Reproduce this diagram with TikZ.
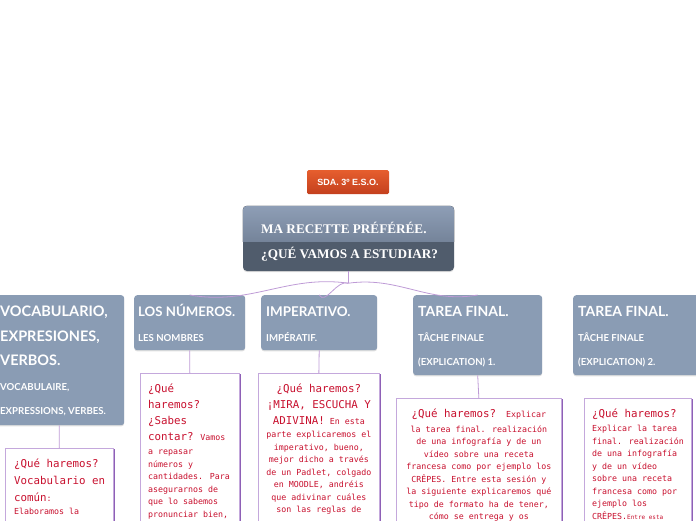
\documentclass[tikz,border=0pt]{standalone}
\usepackage{fontspec}
\setmainfont{Lato}
\newfontfamily\titlefont{Liberation Serif}
\newfontfamily\pixfont{DejaVu Sans Mono}
\newfontfamily\tagfont{Liberation Sans}
\usepackage{xcolor}
\usetikzlibrary{positioning, shadows, calc}

\definecolor{headfill}{RGB}{138,156,180}
\definecolor{maintop}{RGB}{142,158,182}
\definecolor{maintopb}{RGB}{96,110,130}
\definecolor{mainbot}{RGB}{80,92,108}
\definecolor{sdatop}{RGB}{230,94,46}
\definecolor{sdabot}{RGB}{196,64,30}
\definecolor{boxline}{RGB}{196,168,220}
\definecolor{boxshadow}{RGB}{142,96,182}
\definecolor{linkcol}{RGB}{190,155,214}
\definecolor{txtred}{RGB}{200,16,46}

% big lines inside the task boxes / head boxes
\newcommand{\bigq}[1]{{\fontsize{10.8}{12.5}\selectfont #1}}
\newcommand{\hbig}[2][13.4]{{\fontsize{#1}{24.5}\selectfont #2}}

\begin{document}
\begin{tikzpicture}[x=1pt, y=-1pt,
  sdatag/.style={rectangle, rounded corners=1.5pt, top color=sdatop, bottom color=sdabot,
    minimum width=82, minimum height=24, inner sep=0pt, text=white,
    font=\tagfont\bfseries\fontsize{9}{10}\selectfont},
  maintopic/.style={rectangle, rounded corners=4pt, fill=mainbot, minimum width=211,
    minimum height=65, inner sep=0pt,
    drop shadow={shadow xshift=0pt, shadow yshift=-1.2pt, opacity=.25}},
  maintxt/.style={text=white, inner sep=0pt, font=\titlefont\bfseries\fontsize{13.2}{15}\selectfont},
  head/.style={rectangle, rounded corners=3pt, fill=headfill, anchor=north west, inner sep=0pt,
    drop shadow={shadow xshift=0pt, shadow yshift=-1.2pt, opacity=.25}},
  headtxt/.style={anchor=north west, text=white, align=left, inner sep=0pt,
    font=\bfseries\fontsize{9.6}{24.5}\selectfont},
  box/.style={rectangle, draw=boxline, line width=0.7pt, fill=white, anchor=north west, inner sep=0pt,
    drop shadow={shadow xshift=1.6pt, shadow yshift=-0.5pt, fill=boxshadow, opacity=1}},
  boxtxt/.style={text=txtred, inner sep=0pt, font=\pixfont\fontsize{8.3}{12.5}\selectfont},
  link/.style={draw=linkcol, line width=0.8pt}]

  \useasboundingbox (0,0) rectangle (696,520);
  \clip (0,0) rectangle (696,520);

  % title tag
  \node[sdatag] (sda) at (348,182) {SDA. 3º E.S.O.};

  % main topic, light upper half over dark lower half
  \node[maintopic] (main) at (348.5,238.5) {};
  \begin{scope}
    \clip (main.north west) rectangle ($(main.north east)+(0,36)$);
    \fill[rounded corners=4pt, top color=maintop, bottom color=maintopb] (main.north west) rectangle (main.south east);
  \end{scope}
  \node[maintxt, anchor=base west] (mainA) at (261,233.5) {MA RECETTE PRÉFÉRÉE.};
  \node[maintxt, anchor=base west] (mainB) at (261,258.5) {¿QUÉ VAMOS A ESTUDIAR?};

  % subtopics
  \node[head, minimum width=130, minimum height=130] (vocab) at (-6,295) {};
  \node[head, minimum width=111, minimum height=55] (num) at (134,295) {};
  \node[head, minimum width=116, minimum height=55] (imp) at (261,295) {};
  \node[head, minimum width=129, minimum height=80] (tfa) at (413,295) {};
  \node[head, minimum width=140, minimum height=80] (tfb) at (573,295) {};

  \node[headtxt] (vocabtxt) at ([shift={(6,7.2)}]vocab.north west)
    {\rule{0pt}{14.5pt}\hbig[14.5]{VOCABULARIO,}\\ \hbig[14.5]{EXPRESIONES,}\\ \hbig[14.5]{VERBOS.}\\ VOCABULAIRE,\\ EXPRESSIONS, VERBES.};
  \node[headtxt] (numtxt) at ([shift={(4,7.7)}]num.north west)
    {\rule{0pt}{14pt}\hbig[13.2]{LOS NÚMEROS.}\\ LES NOMBRES};
  \node[headtxt] (imptxt) at ([shift={(5,7.7)}]imp.north west)
    {\rule{0pt}{14pt}\hbig[13.4]{IMPERATIVO.}\\ IMPÉRATIF.};
  \node[headtxt] (tfatxt) at ([shift={(5,7.5)}]tfa.north west)
    {\rule{0pt}{14.2pt}\hbig[14]{TAREA FINAL.}\\ TÂCHE FINALE\\ (EXPLICATION) 1.};
  \node[headtxt] (tfbtxt) at ([shift={(5,7.5)}]tfb.north west)
    {\rule{0pt}{14.2pt}\hbig[14]{TAREA FINAL.}\\ TÂCHE FINALE\\ (EXPLICATION) 2.};

  % connectors main -> subtopics
  \coordinate (fork) at ($(main.south)+(0,12)$);
  \draw[link] (main.south) -- (fork);
  \draw[link] (fork) to[out=172, in=350] (num.north);
  \draw[link] (fork) to[out=160, in=300] (imp.north);
  \draw[link] (fork) to[out=8, in=190] (tfa.north);

  % task boxes
  \node[box, minimum width=108, minimum height=120] (voctask) at (5,448) {};
  \node[box, minimum width=99, minimum height=200] (numtask) at (140,373) {};
  \node[box, minimum width=121, minimum height=200] (imptask) at (258,373) {};
  \node[box, minimum width=165, minimum height=160] (tfatask) at (396,398) {};
  \node[box, minimum width=107, minimum height=160] (tfbtask) at (584,398) {};

  \draw[link] (vocab.south) -- (voctask.north);
  \draw[link] (num.south) -- (numtask.north);
  \draw[link] (imp.south) -- (imptask.north);
  \draw[link] (tfa.south) -- (tfatask.north);

  \node[boxtxt, anchor=north west, align=left] (voctasktxt) at ([shift={(9,7.5)}]voctask.north west)
    {\rule{0pt}{12pt}\bigq{¿Qué haremos?}\\[4.5pt] \bigq{Vocabulario en}\\[4.5pt] \bigq{común}:\\ Elaboramos la};
  \node[boxtxt, anchor=north west, align=left] (numtasktxt) at ([shift={(8,7.5)}]numtask.north west)
    {\rule{0pt}{12pt}\bigq{¿Qué}\\[3.5pt] \bigq{haremos?}\\[3.5pt] \bigq{¿Sabes}\\[3.5pt] \bigq{contar?} Vamos\\[1.5pt]
     a repasar\\ números y\\ cantidades. Para\\ asegurarnos de\\ que lo sabemos\\ pronunciar bien,};
  \node[boxtxt, anchor=north, align=center] (imptasktxt) at ([shift={(0,7.5)}]imptask.north)
    {\rule{0pt}{12pt}\bigq{¿Qué haremos?}\\[3pt] \bigq{¡MIRA, ESCUCHA Y}\\[3.5pt] \bigq{ADIVINA!} En esta\\[1pt]
     parte explicaremos el\\ imperativo, bueno,\\ mejor dicho a través\\ de un Padlet, colgado\\
     en MOODLE, andréis\\ que adivinar cuáles\\ son las reglas de};
  \node[boxtxt, anchor=north, align=center] (tfatasktxt) at ([shift={(0,7.5)}]tfatask.north)
    {\rule{0pt}{12pt}\bigq{¿Qué haremos?}\ \ Explicar\\[2pt] la tarea final. realización\\ de una infografía y de un\\
     vídeo sobre una receta\\ francesa como por ejemplo los\\ CRÊPES. Entre esta sesión y\\
     la siguiente explicaremos qué\\ tipo de formato ha de tener,\\ cómo se entrega y os};
  \node[boxtxt, anchor=north west, align=left] (tfbtasktxt) at ([shift={(8,7.5)}]tfbtask.north west)
    {\rule{0pt}{12pt}\bigq{¿Qué haremos?}\\[1.5pt] Explicar la tarea\\ final. realización\\ de una infografía\\
     y de un vídeo\\ sobre una receta\\ francesa como por\\ ejemplo los\\ CRÊPES.{\fontsize{6}{7}\selectfont Entre esta}};
\end{tikzpicture}
\end{document}
